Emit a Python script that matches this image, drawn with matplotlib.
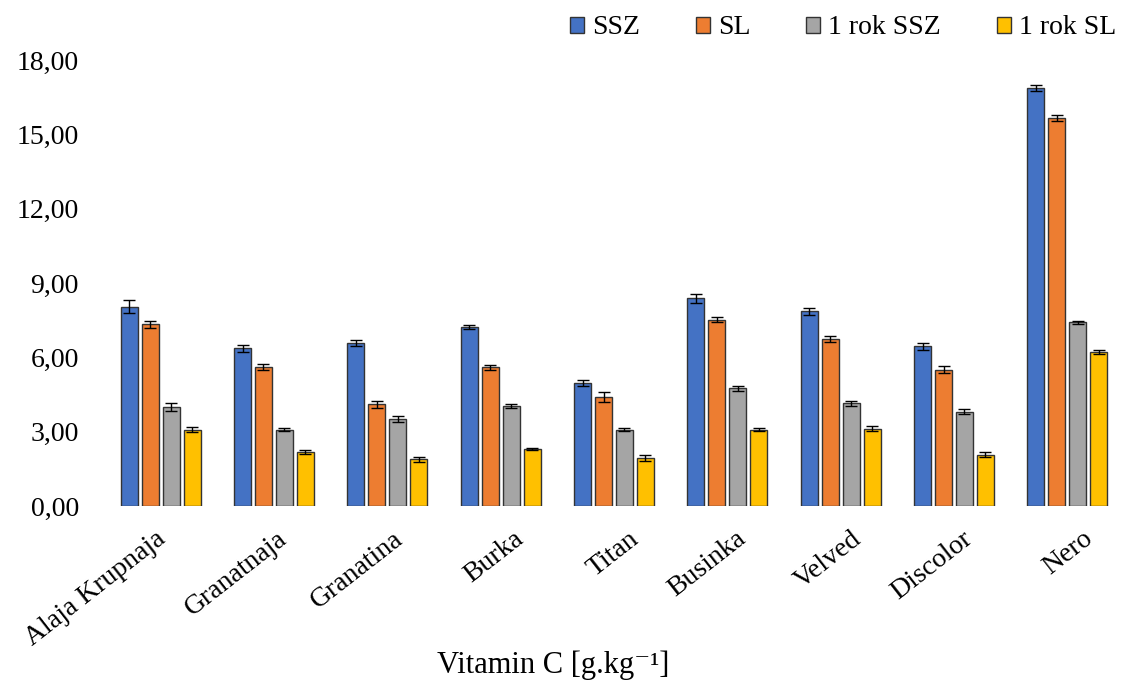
import numpy as np
import matplotlib
matplotlib.use("Agg")
import matplotlib.pyplot as plt
import matplotlib.transforms as mtransforms
from matplotlib.patches import Patch

plt.rcParams['font.family'] = ['Liberation Serif', 'DejaVu Serif']

# Chart data
varieties = ["Alaja Krupnaja", "Granatnaja", "Granatina", "Burka", "Titan",
             "Businka", "Velved", "Discolor", "Nero"]
series_names = ["SSZ", "SL", "1 rok SSZ", "1 rok SL"]
ssz = [8.04, 6.36, 6.56, 7.22, 4.96, 8.38, 7.86, 6.44, 16.87]
sl = [7.33, 5.60, 4.10, 5.60, 4.39, 7.52, 6.74, 5.50, 15.65]
ssz_1y = [4.00, 3.08, 3.52, 4.04, 3.08, 4.76, 4.14, 3.81, 7.41]
sl_1y = [3.08, 2.17, 1.88, 2.31, 1.92, 3.08, 3.12, 2.07, 6.21]
ssz_err = [0.26, 0.13, 0.12, 0.09, 0.12, 0.18, 0.15, 0.15, 0.13]
sl_err = [0.13, 0.13, 0.13, 0.11, 0.20, 0.10, 0.11, 0.15, 0.12]
ssz_1y_err = [0.17, 0.07, 0.11, 0.08, 0.07, 0.10, 0.11, 0.11, 0.07]
sl_1y_err = [0.11, 0.08, 0.09, 0.04, 0.12, 0.07, 0.11, 0.10, 0.07]
y_ticks = [0, 3, 6, 9, 12, 15, 18]

colors = ["#4472C4", "#ED7D31", "#A5A5A5", "#FFC000"]
values = [ssz, sl, ssz_1y, sl_1y]
errors = [ssz_err, sl_err, ssz_1y_err, sl_1y_err]

fig = plt.figure(figsize=(11.3, 6.84), dpi=100)
ax = fig.add_axes([0.092, 0.2602, 0.9027, 0.6521])

x = np.arange(len(varieties))
step = 0.185
width = 0.15
for i, (vals, errs, col) in enumerate(zip(values, errors, colors)):
    ax.bar(x + (i - 1.5) * step, vals, width, color=col, edgecolor="#333333",
           linewidth=1.0, yerr=errs, capsize=4.5,
           error_kw=dict(ecolor="black", elinewidth=1.0, capthick=1.0))

ax.set_xlim(-0.5, len(varieties) - 0.5)
ax.set_ylim(0, 18)
ax.set_yticks(y_ticks)
ax.set_yticklabels([f"{v:.2f}".replace(".", ",") for v in y_ticks], fontsize=20)
ax.set_xticks(x)
ax.set_xticklabels([])
ax.tick_params(axis="both", length=0)
ax.tick_params(axis="y", pad=18)
for s in ax.spines.values():
    s.set_visible(False)

# rotated category labels, shifted like the spreadsheet layout
# (short labels sit further right of their group centre)
base = mtransforms.blended_transform_factory(ax.transData, ax.transAxes)
labels = []
for xi, name in zip(x, varieties):
    t = ax.text(xi, 0, name, fontsize=20, rotation=38, ha="right", va="center",
                rotation_mode="anchor", transform=base)
    labels.append(t)
fig.canvas.draw()
renderer = fig.canvas.get_renderer()
for t in labels:
    w = t.get_window_extent(renderer).width
    dx = 35 - 0.22 * w
    t.set_transform(mtransforms.offset_copy(base, fig=fig, x=dx, y=-30,
                                            units="dots"))

fig.text(553 / 1130, 1 - 665 / 684, "Vitamin C [g.kg\u207b\u00b9]",
         fontsize=22, ha="center", va="center")

handles = [Patch(facecolor=c, edgecolor="#333333", linewidth=1.0) for c in colors]
fig.legend(handles, series_names, loc="center right", ncol=4,
           bbox_to_anchor=(1.0, 1 - 28 / 684), frameon=False, fontsize=20,
           handlelength=0.5, handleheight=0.5, handletextpad=0.3,
           columnspacing=2.0, borderaxespad=0.1)

fig.savefig("out.png", dpi=100)
